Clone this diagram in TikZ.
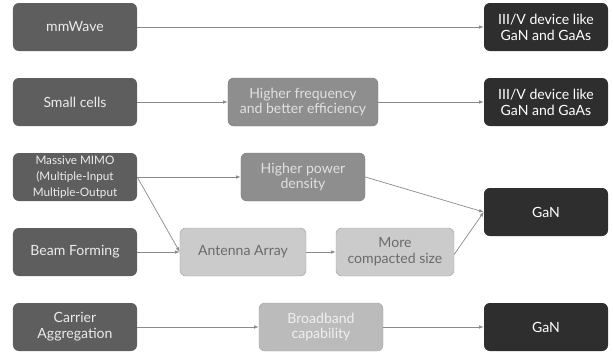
\documentclass[tikz,border=0pt]{standalone}
\usepackage{fontspec}
\setmainfont{Lato}
\usetikzlibrary{arrows.meta}
\definecolor{techgray}{HTML}{5E5E5E}
\definecolor{devgray}{HTML}{2E2E2E}
\definecolor{midgray}{HTML}{8E8E8E}
\definecolor{lightgray}{HTML}{CBCBCB}
\definecolor{edgegray}{HTML}{A6A6A6}
\definecolor{linegray}{HTML}{8A8A8A}
\begin{document}
\begin{tikzpicture}[x=0.03cm,y=-0.03cm,
  every node/.style = {rounded corners=5pt, align=center,
    minimum height=1.44cm, inner sep=2pt, font=\fontsize{12}{13.5}\selectfont},
  tech/.style = {fill=techgray, text=white!92!black, minimum width=3.72cm},
  device/.style = {fill=devgray, text=white, minimum width=3.72cm},
  benefit/.style = {fill=midgray, draw=midgray!90!black, text=white!88!black},
  feature/.style = {fill=lightgray, draw=edgegray, text=black!58},
  link/.style = {draw=linegray, line width=0.6pt, -{Latex[length=4pt,width=3pt]}}]
  \useasboundingbox (0,0) rectangle (613,354);
  % left column
  \node [tech] (mmw) at (75,27) {mmWave};
  \node [tech] (small) at (75,102) {Small cells};
  \node [tech] (mimo) at (75,177) {\fontsize{10}{11.5}\selectfont Massive MIMO\\
    \fontsize{10}{11.5}\selectfont (Multiple-Input\\
    \fontsize{10}{11.5}\selectfont Multiple-Output};
  \node [tech] (beam) at (75,252) {Beam Forming};
  \node [tech] (carrier) at (75,327) {Carrier\\Aggregation};
  % middle
  \node [benefit, minimum width=4.5cm] (freq) at (303,102) {Higher frequency\\and better efficiency};
  \node [benefit, minimum width=3.72cm] (power) at (303,177) {Higher power\\density};
  \node [feature, minimum width=3.78cm] (antenna) at (243,252) {Antenna Array};
  \node [feature, minimum width=3.54cm] (compact) at (395,252) {More\\compacted size};
  \node [feature, fill=lightgray!92!black, text=white!94!black, minimum width=3.72cm] (broad) at (321,327) {Broadband\\capability};
  % right column
  \node [device] (dev1) at (546,27) {III/V device like\\GaN and GaAs};
  \node [device] (dev2) at (546,102) {III/V device like\\GaN and GaAs};
  \node [device] (gan1) at (546,212) {GaN};
  \node [device] (gan2) at (546,327) {GaN};
  % connectors
  \draw [link] (mmw) -- (dev1);
  \draw [link] (small) -- (freq);
  \draw [link] (freq) -- (dev2);
  \draw [link] (mimo) -- (power);
  \draw [link] (mimo.east) -- (antenna.west);
  \draw [link] (beam) -- (antenna);
  \draw [link] (antenna) -- (compact);
  \draw [link] (power.east) -- (gan1.west);
  \draw [link] ([yshift=-2pt]compact.east) -- (gan1.west);
  \draw [link] (carrier) -- (broad);
  \draw [link] (broad) -- (gan2);
\end{tikzpicture}
\end{document}
